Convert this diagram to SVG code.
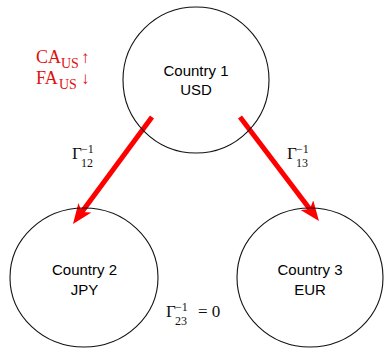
<svg xmlns="http://www.w3.org/2000/svg" width="384" height="348" viewBox="0 0 384 348">
<style>
.node{fill:none;stroke:#111;stroke-width:1.1}
.lbl{font-family:"Liberation Sans",Arial,sans-serif;font-size:15px;fill:#000;text-anchor:middle}
.m{font-family:"Liberation Serif","DejaVu Serif",serif;fill:#111}
.big{font-size:17px}
.sm{font-size:12px}
.red{fill:#e01010;font-family:"Liberation Serif","DejaVu Serif",serif}
.arrow{stroke:#ff0000;stroke-width:5;fill:none}
</style>
<defs>
<marker id="ah" markerUnits="userSpaceOnUse" viewBox="0 0 20 16" refX="6" refY="8" markerWidth="20" markerHeight="16" orient="auto">
<path d="M0,0 L20,8 L0,16 L5,8 Z" fill="#ff0000"/>
</marker>
</defs>
<rect width="384" height="348" fill="#fff"/>
<g id="connectors">
<line class="arrow" x1="152" y1="117" x2="81.3" y2="212.7" marker-end="url(#ah)"/>
<line class="arrow" x1="240" y1="117" x2="310.5" y2="209.9" marker-end="url(#ah)"/>
</g>
<g id="country1">
<ellipse class="node" cx="196" cy="80" rx="73" ry="73"/>
<text class="lbl" x="196" y="76">Country 1</text>
<text class="lbl" x="196" y="95">USD</text>
</g>
<g id="country2">
<ellipse class="node" cx="84" cy="277.5" rx="74" ry="69.5"/>
<text class="lbl" x="84.5" y="275">Country 2</text>
<text class="lbl" x="84.5" y="295">JPY</text>
</g>
<g id="country3">
<ellipse class="node" cx="310" cy="277.5" rx="73" ry="69.5"/>
<text class="lbl" x="310" y="275">Country 3</text>
<text class="lbl" x="310" y="295">EUR</text>
</g>
<g id="ca-fa">
<text class="red" x="36" y="63" font-size="18">CA</text>
<text class="red" x="61" y="68" font-size="14">US</text>
<text class="red" x="81" y="63" font-size="17">↑</text>
<text class="red" x="36" y="84" font-size="18">FA</text>
<text class="red" x="59" y="89" font-size="14">US</text>
<text class="red" x="81" y="84" font-size="17">↓</text>
</g>
<g id="gamma12">
<text class="m big" x="72" y="159">Γ</text>
<text class="m sm" x="81" y="153">−1</text>
<text class="m sm" x="81" y="167">12</text>
</g>
<g id="gamma13">
<text class="m big" x="287" y="159">Γ</text>
<text class="m sm" x="296" y="153">−1</text>
<text class="m sm" x="296" y="167">13</text>
</g>
<g id="gamma23">
<text class="m big" x="166" y="317">Γ</text>
<text class="m sm" x="175" y="311">−1</text>
<text class="m sm" x="175" y="325">23</text>
<text class="m big" x="198" y="317">= 0</text>
</g>
</svg>
